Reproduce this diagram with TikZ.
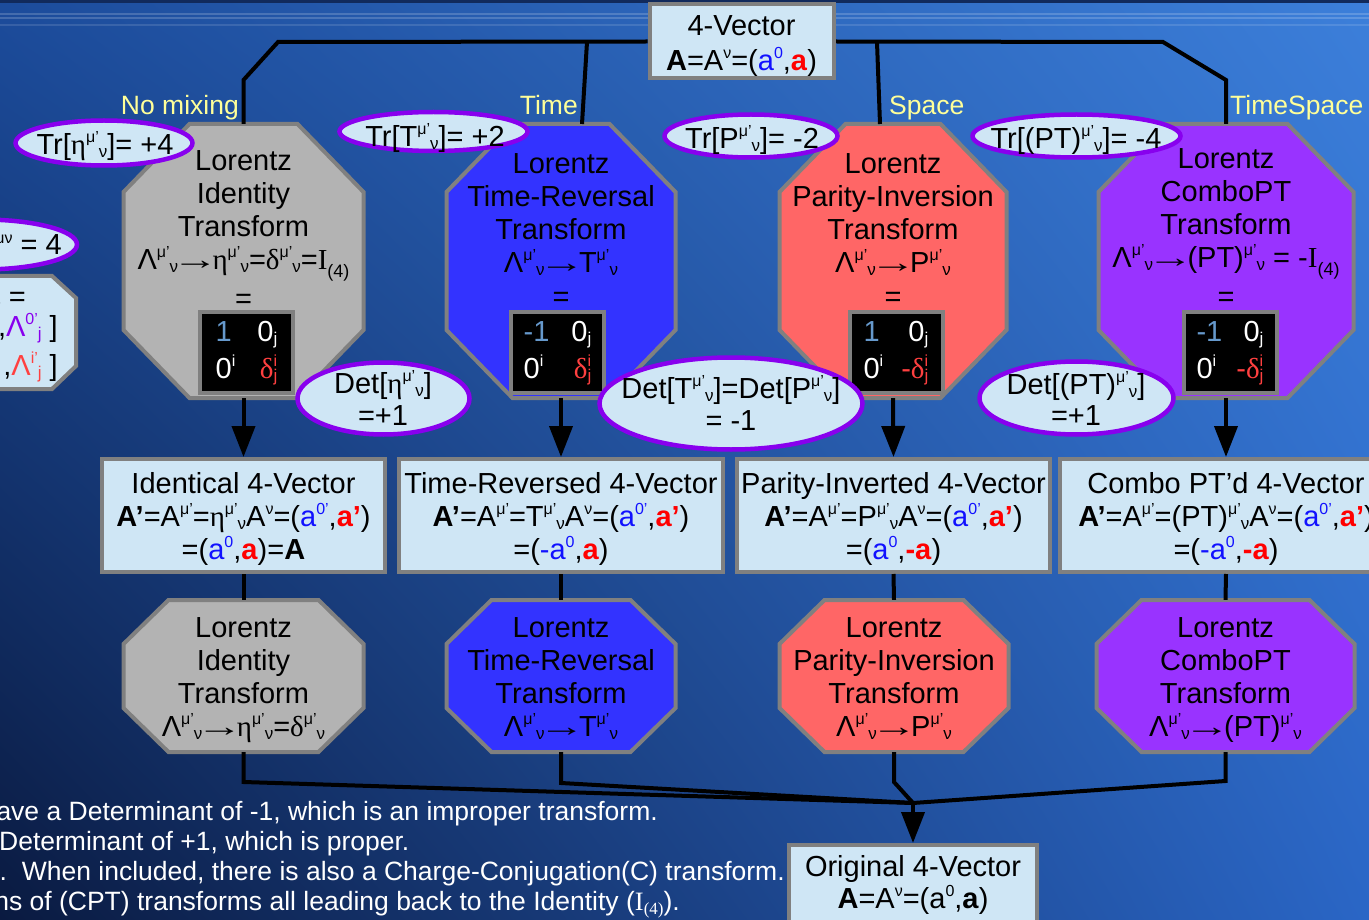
\documentclass[tikz,border=0pt]{standalone}
\usepackage{fontspec}
\setmainfont{Liberation Sans}
\newfontfamily\serf{Liberation Serif}
\usetikzlibrary{arrows.meta,shapes.geometric,shadings}
\definecolor{bgUL}{HTML}{1C4C9C}
\definecolor{bgUR}{HTML}{3C7FDA}
\definecolor{bgLL}{HTML}{0A1A40}
\definecolor{bgLR}{HTML}{2A66C6}
\definecolor{hdrdark}{HTML}{112A5C}
\definecolor{bx}{HTML}{CFE6F5}
\definecolor{bxl}{HTML}{808080}
\definecolor{og}{HTML}{B3B3B3}
\definecolor{ob}{HTML}{3333FF}
\definecolor{orr}{HTML}{FF6666}
\definecolor{op}{HTML}{9933FF}
\definecolor{elb}{HTML}{8800EE}
\definecolor{ylw}{HTML}{FFFF99}
\definecolor{ablue}{HTML}{1111FF}
\definecolor{ared}{HTML}{FF0000}
\definecolor{mblu}{HTML}{6699CC}
\definecolor{dred}{HTML}{FF4040}
\definecolor{lpurp}{HTML}{8800EE}
\newcommand\mainf{\fontsize{29}{33}\selectfont}
\newcommand\matf{\fontsize{29}{37}\selectfont}
\newcommand\labf{\fontsize{26.5}{30}\selectfont}
\newcommand\sps[1]{\raisebox{12pt}[0pt][0pt]{\fontsize{16}{16}\selectfont #1}}
\newcommand\sbs[1]{\raisebox{-3.5pt}[0pt][0pt]{\fontsize{17}{17}\selectfont #1}}
\newcommand\sbl[1]{\raisebox{-8pt}{\fontsize{18}{18}\selectfont #1}}
\newcommand\ssb[2]{\makebox[0pt][l]{\sps{#1}}\sbs{#2}}
\newcommand\muv{\sps{μ’}\sbs{ν}}
\newcommand\mup{\sps{μ’}}
\newcommand\etaS{{\serf η}}
\newcommand\delS{{\serf δ}}
\newcommand\IS{{\serf I}}
\newcommand\toS{\kern-6pt\scalebox{1.6}[1]{\serf →}\kern-6pt}
\newcommand\azp{{\color{ablue}a\sps{0’}}}
\newcommand\az{{\color{ablue}a\sps{0}}}
\newcommand\mz{{\color{ablue}-a\sps{0}}}
\newcommand\ap{{\color{ared}\textbf{a’}}}
\newcommand\av{{\color{ared}\textbf{a}}}
\newcommand\mav{{\color{ared}\textbf{-a}}}
% octagon: style, name, cx, top, w, h, chx, chy
\newcommand\octa[8]{%
  \path[octline,#1] ({#3-#5/2+#7},#4) -- ({#3+#5/2-#7},#4) -- ({#3+#5/2},{#4+#8})
    -- ({#3+#5/2},{#4+#6-#8}) -- ({#3+#5/2-#7},{#4+#6}) -- ({#3-#5/2+#7},{#4+#6})
    -- ({#3-#5/2},{#4+#6-#8}) -- ({#3-#5/2},{#4+#8}) -- cycle;
  \node[hold,minimum width=#5pt,minimum height=#6pt] (#2) at (#3,{#4+#6/2}) {};}
\begin{document}
\begin{tikzpicture}[x=1pt,y=-1pt,
  conn/.style={line width=4pt,draw=black,line join=miter},
  arr/.style={conn,-{Triangle[length=31pt,width=23pt]}},
  octline/.style={draw=bxl,line width=4pt,line join=miter},
  hold/.style={rectangle,inner sep=0pt,draw=none},
  lbox/.style={rectangle,draw=bxl,line width=4pt,fill=bx,inner sep=0pt},
  txt/.style={inner sep=0pt,align=center,anchor=north,font=\mainf},
  ell/.style={ellipse,draw=elb,line width=4.5pt,fill=bx,inner sep=0pt},
  mat/.style={rectangle,fill=black,draw=bxl,line width=4pt,minimum width=93pt,minimum height=81pt,inner sep=0pt,text=white,font=\matf},
  ylab/.style={text=ylw,font=\labf,inner sep=0pt},
  note/.style={text=white,font=\labf,inner sep=0pt}]
\useasboundingbox (0,0) rectangle (1369,920);
\clip (0,0) rectangle (1369,920);
\shade[upper left=bgUL,upper right=bgUR,lower left=bgLL,lower right=bgLR] (0,0) rectangle (1369,920);
\fill[hdrdark] (0,0) rectangle (1369,3);
\draw[white,opacity=.18,line width=1.2pt] (0,14) -- (1369,14);
\draw[white,opacity=.18,line width=1.2pt] (0,18) -- (1369,18);
\draw[white,opacity=.12,line width=1.5pt] (0,25) -- (1369,25);

% top box
\node[lbox,minimum width=184pt,minimum height=74pt] (tb) at (741.5,41.5) {};
% top connectors
\coordinate (t1) at (278,42);
\coordinate (t1b) at (243.5,80);
\coordinate (j2) at (587,42);
\coordinate (k2) at (582,124);
\coordinate (j3) at (877,42);
\coordinate (k3) at (880,124);
\coordinate (t4) at (1163,42);
\coordinate (t4b) at (1226,80);

% octagons top row
\octa{fill=og}{g1}{243.5}{124}{240}{274}{66}{68}
\octa{fill=ob}{b1}{561}{124}{229}{274}{66}{68}
\octa{fill=orr}{r1}{893}{124}{227}{274}{66}{68}
\octa{fill=op}{p1}{1226}{124}{255}{274}{66}{68}

\draw[conn] (tb.west) -- (t1) -- (t1b) -- (g1.north);
\draw[conn] (tb.east) -- (t4) -- (t4b) -- (p1.north);
\draw[conn] (j2) -- (k2);
\draw[conn] (j3) -- (k3);
\node[lbox,minimum width=184pt,minimum height=74pt] (tb2) at (741.5,41.5) {};
\node[txt] (tbt) at (741.5,15) {4-Vector\\[2pt]\textbf{A}=A\sps{ν}=(\az,\av)};

% yellow labels
\node[ylab,anchor=base east] (l1) at (239,115) {No mixing};
\node[ylab,anchor=base east] (l2) at (578,115) {Time};
\node[ylab,anchor=base west] (l3) at (889,115) {Space};
\node[ylab,anchor=base west] (l4) at (1230,115) {TimeSpace};

% octagon texts
\node[txt] (g1t) at (243.5,150) {Lorentz\\Identity\\Transform\\Λ\muv\toS\etaS\muv=\delS\muv=\IS\sbl{(4)}\\[6pt]=};
\node[txt] (b1t) at (561,153) {Lorentz\\Time-Reversal\\Transform\\Λ\muv\toS T\muv\\[1pt]=};
\node[txt] (r1t) at (893,153) {Lorentz\\Parity-Inversion\\Transform\\Λ\muv\toS P\muv\\[1pt]=};
\node[txt] (p1t) at (1226,148) {Lorentz\\ComboPT\\Transform\\Λ\muv\toS(PT)\muv\ = -\IS\sbl{(4)}\\[6pt]=};

% matrices
\node[mat] (gm) at (246.5,352.5) {\begin{tabular}{@{}l@{\hspace{22pt}}r@{}}{\color{mblu}1} & 0\sbs{j}\\ 0\sps{i} & {\color{dred}\delS\ssb{i}{j}}\end{tabular}};
\node[mat] (bm) at (557.5,352.5) {\begin{tabular}{@{}l@{\hspace{22pt}}r@{}}{\color{mblu}-1} & 0\sbs{j}\\ 0\sps{i} & {\color{dred}\delS\ssb{i}{j}}\end{tabular}};
\node[mat] (rm) at (896,352.5) {\begin{tabular}{@{}l@{\hspace{18pt}}r@{}}{\color{mblu}1} & 0\sbs{j}\\ 0\sps{i} & {\color{dred}-\delS\ssb{i}{j}}\end{tabular}};
\node[mat] (pm) at (1230,352.5) {\begin{tabular}{@{}l@{\hspace{14pt}}r@{}}{\color{mblu}-1} & 0\sbs{j}\\ 0\sps{i} & {\color{dred}-\delS\ssb{i}{j}}\end{tabular}};

% Tr ellipses
\node[ell,minimum width=177pt,minimum height=45pt] (e1) at (104,143) {};
\node[txt] (e1t) at (105,133) {Tr[\etaS\muv]= +4};
\node[ell,minimum width=188pt,minimum height=39pt] (e2) at (433.5,131.5) {};
\node[txt] (e2t) at (435,125) {Tr[T\muv]= +2};
\node[ell,minimum width=173pt,minimum height=43pt] (e3) at (751,136) {};
\node[txt] (e3t) at (752,127) {Tr[P\muv]= -2};
\node[ell,minimum width=208pt,minimum height=43pt] (e4) at (1076.5,136) {};
\node[txt] (e4t) at (1076,127) {Tr[(PT)\muv]= -4};

% left clipped items
\node[ell,minimum width=190pt,minimum height=50pt] (eL) at (-18,244.5) {};
\node[inner sep=0pt,font=\mainf,anchor=base east] (eLt) at (62,255) {\etaS\sps{μν} = 4};
\path[octline,fill=bx] (-100,276) -- (52,276) -- (76,298) -- (76,366) -- (52,389) -- (-100,389) -- cycle;
\node[inner sep=0pt,font=\mainf,anchor=base east] (lo1) at (26,307) {Λ\muv\ =};
\node[inner sep=0pt,font=\mainf,anchor=base east] (lo2) at (58,336) {,{\color{lpurp}Λ\sps{0’}\sbs{j}} ]};
\node[inner sep=0pt,font=\mainf,anchor=base east] (lo3) at (58,375) {,{\color{dred}Λ\sps{i’}\sbs{j}} ]};

% middle boxes
\node[lbox,minimum width=283pt,minimum height=113pt] (m1) at (243.5,515.5) {};
\node[lbox,minimum width=324pt,minimum height=113pt] (m2) at (561,515.5) {};
\node[lbox,minimum width=313pt,minimum height=113pt] (m3) at (893.5,515.5) {};
\node[lbox,minimum width=332pt,minimum height=113pt] (m4) at (1226,515.5) {};
\node[txt] (m1t) at (243.5,472) {Identical 4-Vector\\\textbf{A’}=A\mup=\etaS\muv A\sps{ν}=(\azp,\ap)\\=(\az,\av)=\textbf{A}};
\node[txt] (m2t) at (561,472) {Time-Reversed 4-Vector\\\textbf{A’}=A\mup=T\muv A\sps{ν}=(\azp,\ap)\\=(\mz,\av)};
\node[txt] (m3t) at (893.5,472) {Parity-Inverted 4-Vector\\\textbf{A’}=A\mup=P\muv A\sps{ν}=(\azp,\ap)\\=(\az,\mav)};
\node[txt] (m4t) at (1226,472) {Combo PT’d 4-Vector\\\textbf{A’}=A\mup=(PT)\muv A\sps{ν}=(\azp,\ap)\\=(\mz,\mav)};

\draw[arr] (g1.south) -- (m1.north);
\draw[arr] (b1.south) -- (m2.north);
\draw[arr] (r1.south) -- (m3.north);
\draw[arr] (p1.south) -- (m4.north);

% Det ellipses
\node[ell,minimum width=172pt,minimum height=72pt] (d1) at (383.5,398.5) {};
\node[txt] (d1t) at (383,372) {Det[\etaS\muv]\\[-1pt]=+1};
\node[ell,minimum width=263pt,minimum height=92pt] (d2) at (731,403.5) {};
\node[txt] (d2t) at (731,377) {Det[T\muv]=Det[P\muv]\\[-1pt]= -1};
\node[ell,minimum width=194pt,minimum height=73pt] (d3) at (1076.5,398) {};
\node[txt] (d3t) at (1076,373) {Det[(PT)\muv]\\[-2pt]=+1};

% lower octagons
\octa{fill=og}{g2}{243.5}{600}{240}{152}{45}{44}
\octa{fill=ob}{b2}{561}{600}{229}{152}{45}{44}
\octa{fill=orr}{r2}{894}{600}{229}{152}{45}{44}
\octa{fill=op}{p2}{1225.5}{600}{258}{152}{45}{44}
\node[txt] (g2t) at (243.5,617) {Lorentz\\Identity\\Transform\\Λ\muv\toS\etaS\muv=\delS\muv};
\node[txt] (b2t) at (561,617) {Lorentz\\Time-Reversal\\Transform\\Λ\muv\toS T\muv};
\node[txt] (r2t) at (894,617) {Lorentz\\Parity-Inversion\\Transform\\Λ\muv\toS P\muv};
\node[txt] (p2t) at (1225.5,617) {Lorentz\\ComboPT\\Transform\\Λ\muv\toS(PT)\muv};

\draw[conn] (m1.south) -- (g2.north);
\draw[conn] (m2.south) -- (b2.north);
\draw[conn] (m3.south) -- (r2.north);
\draw[conn] (m4.south) -- (p2.north);

% bottom connectors
\coordinate (jn) at (913,803);
\coordinate (gb) at (243.5,782);
\coordinate (bb) at (561,783);
\coordinate (rb) at (894,782);
\coordinate (pb) at (1225.5,781);
\draw[conn] (g2.south) -- (gb) -- (jn);
\draw[conn] (b2.south) -- (bb) -- (jn);
\draw[conn] (r2.south) -- (rb) -- (jn);
\draw[conn] (p2.south) -- (pb) -- (jn);
\node[lbox,minimum width=248pt,minimum height=85pt] (orig) at (913,887.5) {};
\draw[arr] (jn) -- (orig.north);
\node[txt] (origt) at (913,855) {Original 4-Vector\\[-1pt]\textbf{A}=A\sps{ν}=(a\sps{0},\textbf{a})};

% notes
\node[note,anchor=base east] (n1) at (658,820) {ave a Determinant of -1, which is an improper transform.};
\node[note,anchor=base west] (n2) at (-1,850) {Determinant of +1, which is proper.};
\node[note,anchor=base east] (n3) at (785,880) {e.\ \ When included, there is also a Charge-Conjugation(C) transform.};
\node[note,anchor=base east] (n4) at (680,910) {ns of (CPT) transforms all leading back to the Identity ({\serf I\raisebox{-4pt}{\fontsize{17}{17}\selectfont (4)}}).};
\end{tikzpicture}
\end{document}
